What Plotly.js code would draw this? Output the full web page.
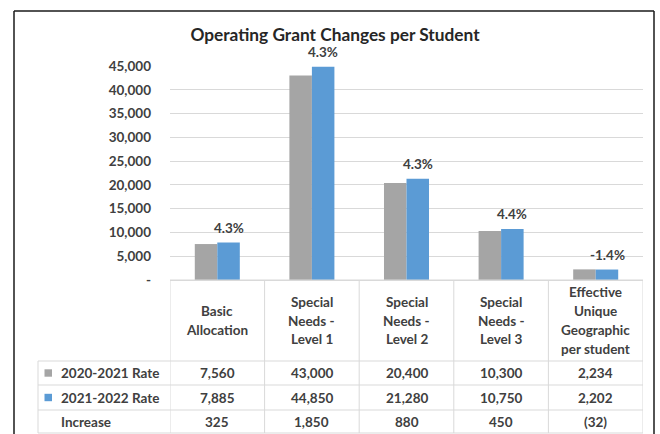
<!DOCTYPE html>
<html>
<head>
<meta charset="utf-8">
<script src="https://cdn.plot.ly/plotly-3.0.1.min.js"></script>
<style>html,body{margin:0;padding:0;background:#fff;}#chart{width:660px;height:434px;}</style>
</head>
<body>
<div id="chart"></div>
<script>
// ---- data ----
const categories = ["Basic Allocation", "Special Needs - Level 1", "Special Needs - Level 2", "Special Needs - Level 3", "Effective Unique Geographic per student"];
const headerLabels = ["Basic<br>Allocation", "Special<br>Needs -<br>Level 1", "Special<br>Needs -<br>Level 2", "Special<br>Needs -<br>Level 3", "Effective<br>Unique<br>Geographic<br>per student"];
const seriesNames = ["2020-2021 Rate", "2021-2022 Rate"];
const rate2021 = [7560, 43000, 20400, 10300, 2234];
const rate2022 = [7885, 44850, 21280, 10750, 2202];
const increaseLabel = "Increase";
const increaseText = ["325", "1,850", "880", "450", "(32)"];
const pctLabels = ["4.3%", "4.3%", "4.3%", "4.4%", "-1.4%"];
const tickVals = [0, 5000, 10000, 15000, 20000, 25000, 30000, 35000, 40000, 45000];
const tickText = ["-", "5,000", "10,000", "15,000", "20,000", "25,000", "30,000", "35,000", "40,000", "45,000"];

// ---- style ----
const GRAY = "#a5a5a5", BLUE = "#5b9bd5", LINE = "#d9d9d9", TXT = "#404040";
const FONT = "Lato, 'Open Sans', sans-serif";
const W = 660, H = 434, L = 170, R = 17, T = 66, B = 154;
const PW = W - L - R, PH = H - T - B;
const PX = px => (px - L) / PW;
const PY = py => (H - B - py) / PH;
const fmt = v => v.toLocaleString("en-US");

const idx = categories.map((c, i) => i);

const traces = [
  {type: "bar", x: idx, y: rate2021, name: seriesNames[0], marker: {color: GRAY}, hoverinfo: "skip"},
  {type: "bar", x: idx, y: rate2022, name: seriesNames[1], marker: {color: BLUE}, hoverinfo: "skip"}
];

const shapes = [];
const annotations = [];
const cellFont = {family: FONT, size: 13.5, color: TXT, weight: 700};

// outer border
[[14, 11, 654, 11], [14, 11, 14, 440], [654, 11, 654, 440]].forEach(s => {
  shapes.push({type: "line", xref: "paper", yref: "paper", x0: PX(s[0]), y0: PY(s[1]), x1: PX(s[2]), y1: PY(s[3]), line: {color: "#1a1a1a", width: 1.5}});
});

// table grid
const rowTops = [361, 385, 410, 433];
for (let i = 0; i <= categories.length; i++) {
  shapes.push({type: "line", xref: "x", yref: "paper", x0: i - 0.5, x1: i - 0.5, y0: PY(280), y1: PY(433), line: {color: LINE, width: 1}});
}
shapes.push({type: "line", xref: "paper", yref: "paper", x0: PX(38), x1: PX(38), y0: PY(361), y1: PY(433), line: {color: LINE, width: 1}});
shapes.push({type: "line", xref: "paper", yref: "paper", x0: 0, x1: 1, y0: PY(280), y1: PY(280), line: {color: LINE, width: 1}});
rowTops.forEach(r => {
  shapes.push({type: "line", xref: "paper", yref: "paper", x0: PX(38), x1: 1, y0: PY(r), y1: PY(r), line: {color: LINE, width: 1}});
});

// header labels (one annotation per line, vertically centred in the header row)
const LH = 18.8, headerMid = 320.5;
headerLabels.forEach((h, i) => {
  const lines = h.split("<br>");
  lines.forEach((ln, k) => {
    const yc = headerMid + (k - (lines.length - 1) / 2) * LH;
    annotations.push({xref: "x", yref: "paper", x: i, y: PY(yc), text: ln, showarrow: false, xanchor: "center", yanchor: "middle", font: cellFont});
  });
});

// rows
const rowCenters = [373, 397.5, 421.5];
const rowData = [rate2021.map(fmt), rate2022.map(fmt), increaseText];
const rowNames = [seriesNames[0], seriesNames[1], increaseLabel];
const rowColors = [GRAY, BLUE, null];
rowData.forEach((row, r) => {
  row.forEach((v, i) => {
    annotations.push({xref: "x", yref: "paper", x: i, y: PY(rowCenters[r]), text: v, showarrow: false, xanchor: "center", yanchor: "middle", font: cellFont});
  });
  annotations.push({xref: "paper", yref: "paper", x: PX(59), y: PY(rowCenters[r]), text: rowNames[r], showarrow: false, xanchor: "left", yanchor: "middle", font: cellFont});
  if (rowColors[r]) {
    shapes.push({type: "rect", xref: "paper", yref: "paper", x0: PX(44.5), x1: PX(52), y0: PY(rowCenters[r] - 3.7), y1: PY(rowCenters[r] + 3.7), fillcolor: rowColors[r], line: {width: 0}});
  }
});

// percent labels above the blue bars
pctLabels.forEach((p, i) => {
  annotations.push({xref: "x", yref: "y", x: i, y: rate2022[i], text: p, showarrow: false, xanchor: "center", yanchor: "bottom", xshift: 11.3, yshift: 5, font: cellFont});
});

const layout = {
  width: W, height: H,
  margin: {l: L, r: R, t: T, b: B, pad: 0},
  paper_bgcolor: "#fff", plot_bgcolor: "#fff",
  barmode: "group", bargap: 0.524, bargroupgap: 0,
  showlegend: false,
  title: {text: "Operating Grant Changes per Student", font: {family: FONT, size: 17.3, color: "#262626", weight: 700},
          xref: "paper", x: PX(335), xanchor: "center", yref: "container", y: 1 - 35 / H, yanchor: "middle"},
  xaxis: {range: [-0.5, categories.length - 0.5], showticklabels: false, showgrid: false, zeroline: false, showline: false, fixedrange: true},
  yaxis: {range: [0, 45000], tickvals: tickVals, ticktext: tickText, showgrid: true, gridcolor: LINE, gridwidth: 1,
          zeroline: true, zerolinecolor: LINE, zerolinewidth: 1, showline: false, ticks: "", ticklabelstandoff: 18,
          tickfont: {family: FONT, size: 13.5, color: TXT, weight: 700}, fixedrange: true},
  shapes: shapes,
  annotations: annotations
};

Plotly.newPlot("chart", traces, layout, {displayModeBar: false, staticPlot: true});
</script>
</body>
</html>
